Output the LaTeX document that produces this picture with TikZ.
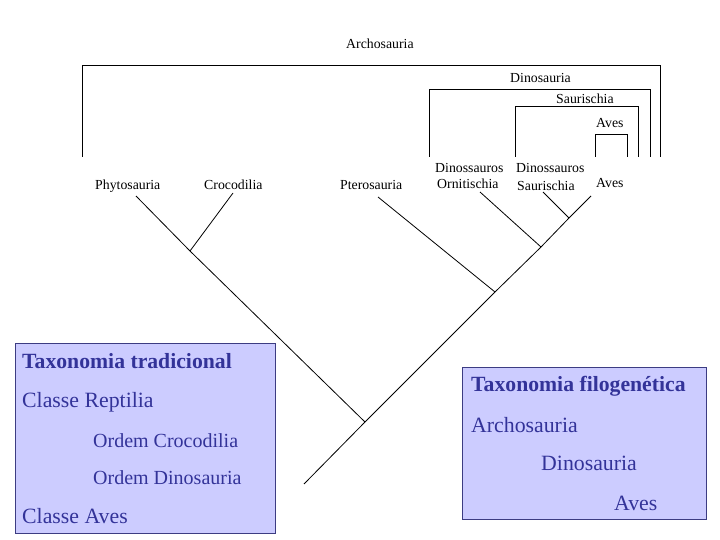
\documentclass[tikz,border=0pt]{standalone}
\usepackage{fontspec}
\setmainfont{Liberation Serif}
\definecolor{boxfill}{RGB}{204,204,255}
\definecolor{boxtext}{RGB}{51,51,153}
\definecolor{boxedge}{RGB}{60,60,130}
\begin{document}
\begin{tikzpicture}[x=1bp,y=-1bp,
  lbl/.style={anchor=base west, inner sep=0pt, font=\fontsize{13.8bp}{15bp}\selectfont},
  big/.style={anchor=base west, inner sep=0pt, text=boxtext, font=\fontsize{21.8bp}{24bp}\selectfont},
  bigb/.style={anchor=base west, inner sep=0pt, text=boxtext, font=\fontsize{21.7bp}{24bp}\selectfont\bfseries},
  midt/.style={anchor=base west, inner sep=0pt, text=boxtext, font=\fontsize{20bp}{22bp}\selectfont},
  branch/.style={draw=black, line width=0.8bp},
  panel/.style={draw=boxedge, fill=boxfill, line width=1bp, inner sep=0pt, outer sep=0pt, anchor=north west}]
\useasboundingbox (0,0) rectangle (720,540);

% nested clade brackets
\draw[branch] (82,157) -- (82,65) -- (660,65) -- (660,157);
\draw[branch] (429,157) -- (429,89) -- (650,89) -- (650,157);
\draw[branch] (515,157) -- (515,106) -- (638,106) -- (638,157);
\draw[branch] (595,157) -- (595,134) -- (627,134) -- (627,157);
\node[lbl] (cArch) at (346,49) {Archosauria};
\node[lbl] (cDino) at (510,83) {Dinosauria};
\node[lbl] (cSaur) at (556,104) {Saurischia};
\node[lbl] (cAves) at (596,128) {Aves};

% leaf labels
\node[lbl] (lPhy) at (95,190) {Phytosauria};
\node[lbl] (lCro) at (204,190) {Crocodilia};
\node[lbl] (lPte) at (340,190) {Pterosauria};
\node[lbl] (lOrn1) at (435,173) {Dinossauros};
\node[lbl] (lOrn2) at (437,189) {Ornitischia};
\node[lbl] (lSau1) at (516,173) {Dinossauros};
\node[lbl] (lSau2) at (517,191) {Saurischia};
\node[lbl] (lAve) at (596,188) {Aves};

% tree
\coordinate (root) at (304,484);
\coordinate (n1) at (365,422);
\coordinate (n2) at (190,251);
\coordinate (tPhy) at (136,196);
\coordinate (tCro) at (233,193);
\coordinate (n3) at (495,292);
\coordinate (tPte) at (378,197);
\coordinate (n4) at (541,247);
\coordinate (tOrn) at (480,192);
\coordinate (n5) at (569,218);
\coordinate (tSau) at (543,192);
\coordinate (tAve) at (591,196);
\draw[branch] (root) -- (n1) -- (n3) -- (n4) -- (n5) -- (tAve);
\draw[branch] (n1) -- (n2) -- (tPhy);
\draw[branch] (n2) -- (tCro);
\draw[branch] (n3) -- (tPte);
\draw[branch] (n4) -- (tOrn);
\draw[branch] (n5) -- (tSau);

% traditional taxonomy panel
\node[panel, minimum width=260bp, minimum height=190bp] (trad) at (15,343) {};
\node[bigb] (tT) at (22,368) {Taxonomia tradicional};
\node[big] (tR) at (22,407) {Classe Reptilia};
\node[midt] (tC) at (93,447) {Ordem Crocodilia};
\node[midt] (tD) at (93,484) {Ordem Dinosauria};
\node[big] (tA) at (22,523) {Classe Aves};

% phylogenetic taxonomy panel
\node[panel, minimum width=244bp, minimum height=152bp] (filo) at (462,367) {};
\node[bigb] (fT) at (471,391) {Taxonomia filogenética};
\node[big] (fA) at (471,432) {Archosauria};
\node[big] (fD) at (541,470) {Dinosauria};
\node[big] (fV) at (614,510) {Aves};
\end{tikzpicture}
\end{document}
